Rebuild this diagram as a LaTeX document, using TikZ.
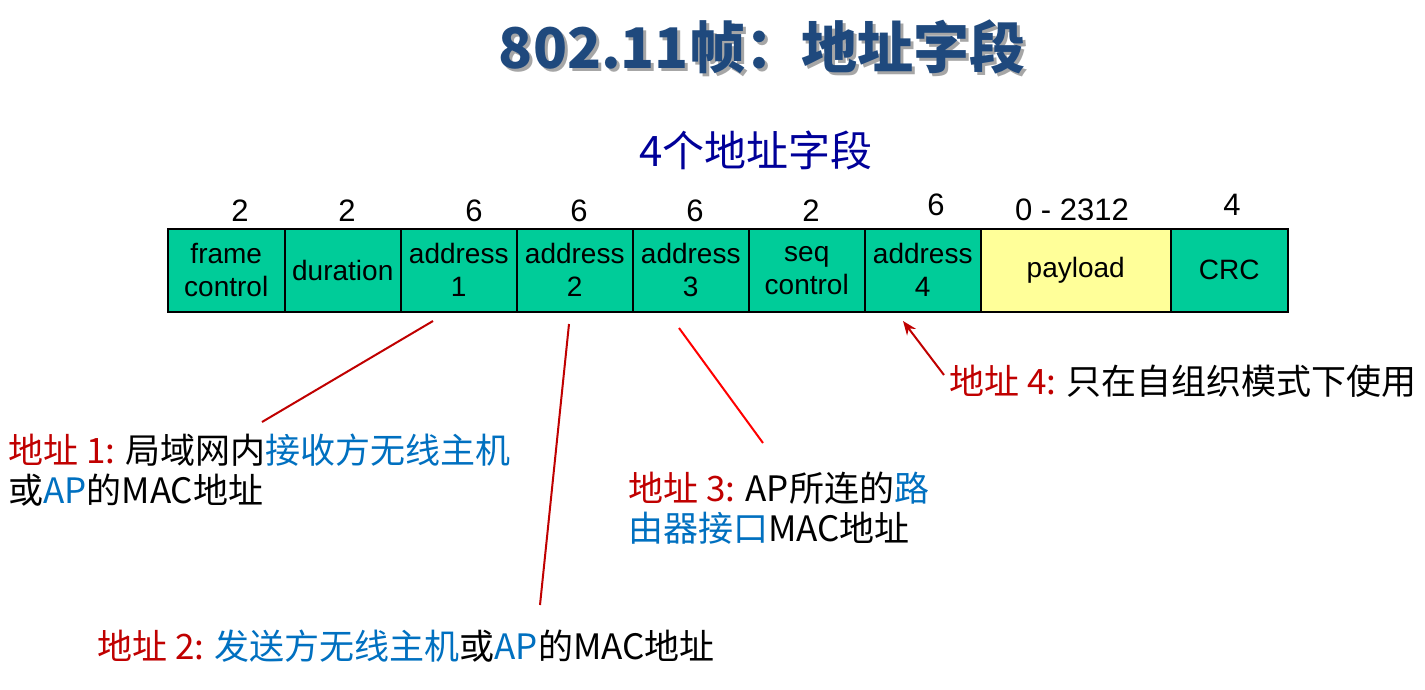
\documentclass[tikz,border=0pt]{standalone}
\usepackage{fontspec}
\setmainfont{Liberation Sans}
\newfontfamily\cjk{Noto Sans CJK SC}
\usetikzlibrary{arrows.meta}
\definecolor{fieldgreen}{RGB}{0,204,153}
\definecolor{payyellow}{RGB}{255,255,153}
\definecolor{titleblue}{RGB}{31,73,125}
\definecolor{subblue}{RGB}{0,0,153}
\definecolor{lblred}{RGB}{192,0,0}
\definecolor{lblblue}{RGB}{0,112,192}

\begin{document}
\begin{tikzpicture}[x=1pt,y=-1pt,
  fld/.style={draw,line width=1.5pt,minimum height=83pt,inner sep=0pt,align=center,
    anchor=north west,font=\fontsize{28}{33}\selectfont},
  num/.style={inner sep=0pt,font=\fontsize{31}{36}\selectfont},
  lbl/.style={anchor=north west,align=left,inner sep=0pt,font=\cjk\fontsize{35}{40}\selectfont},
  ptr/.style={line width=2pt,lblred}]
  \path[fill=white] (0,0) rectangle (1425,689);
  \useasboundingbox (0,0) rectangle (1425,689);
  % ---------- title
  \node[font=\cjk\bfseries\fontsize{56}{60}\selectfont,black!35] (titleshadow) at (765,50) {802.11帧：地址字段};
  \node[font=\cjk\bfseries\fontsize{56}{60}\selectfont,titleblue] (title) at (762,47) {802.11帧：地址字段};
  \node[font=\cjk\fontsize{42}{44}\selectfont,subblue] (subtitle) at (756,150) {4个地址字段};
  % ---------- frame fields
  \foreach \t/\x/\w/\c [count=\i] in {{frame\\control}/167/117/fieldgreen,duration/284/116/fieldgreen,
      {address\\1}/400/116/fieldgreen,{address\\2}/516/116/fieldgreen,{address\\3}/632/116/fieldgreen,
      {seq\\control}/748/116/fieldgreen,{address\\4}/864/116/fieldgreen,payload/980/190/payyellow,
      CRC/1170/117/fieldgreen}
    \node[fld,fill=\c,minimum width=\w*1pt] (f\i) at (\x,228) {\t};
  \foreach \n/\x/\y [count=\i] in {2/240/211,2/347/211,6/474/211,6/579/211,6/695/211,2/811/211,
      6/936/205,0 - 2312/1072/210,4/1232/205}
    \node[num] (n\i) at (\x,\y) {\n};
  % ---------- notes
  \node[lbl] (note1) at (8,434) {{\color{lblred}地址 1:} 局域网内{\color{lblblue}接收方无线主机}\\或{\color{lblblue}AP}的MAC地址};
  \node[lbl] (note2) at (97,630) {{\color{lblred}地址 2:} {\color{lblblue}发送方无线主机}或{\color{lblblue}AP}的MAC地址};
  \node[lbl] (note3) at (628,472) {{\color{lblred}地址 3:} AP所连的{\color{lblblue}路}\\{\color{lblblue}由器接口}MAC地址};
  \node[lbl] (note4) at (949,365) {{\color{lblred}地址 4:} 只在自组织模式下使用};
  % ---------- pointers
  \coordinate (p1) at (433,321); \coordinate (q1) at (262,422);
  \coordinate (p2) at (569,324); \coordinate (q2) at (540,605);
  \coordinate (p3) at (679,328); \coordinate (q3) at (763,443);
  \coordinate (p4) at (903,321); \coordinate (q4) at (944,375);
  \draw[ptr] (p1) -- (q1);
  \draw[ptr] (p2) -- (q2);
  \draw[ptr,red] (p3) -- (q3);
  \draw[ptr,-{Stealth[length=14pt,width=11pt]}] (q4) -- (p4);
\end{tikzpicture}
\end{document}
